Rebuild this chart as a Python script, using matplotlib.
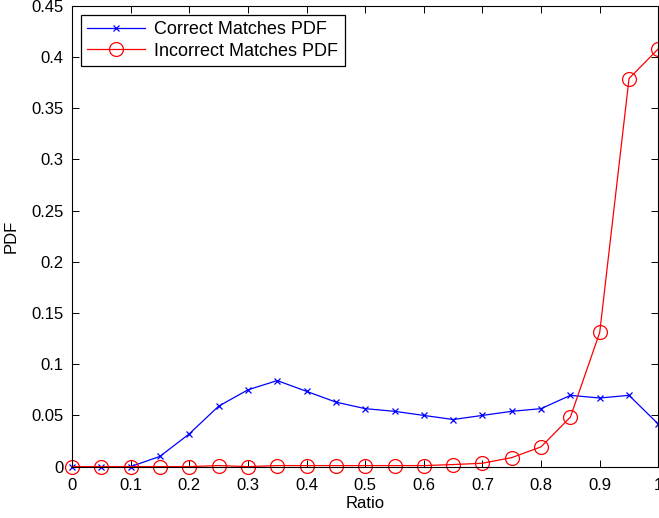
import matplotlib
matplotlib.use('Agg')
import matplotlib.pyplot as plt

plt.rcParams['font.family'] = ['Liberation Sans', 'DejaVu Sans']

ratio = [0.0, 0.05, 0.1, 0.15, 0.2, 0.25, 0.3, 0.35, 0.4, 0.45, 0.5,
         0.55, 0.6, 0.65, 0.7, 0.75, 0.8, 0.85, 0.9, 0.95, 1.0]
correct_pdf = [0.0, 0.0, 0.0, 0.010, 0.032, 0.059, 0.075, 0.084, 0.0735, 0.063, 0.0566,
               0.054, 0.050, 0.046, 0.050, 0.054, 0.0566, 0.0696, 0.067, 0.0696, 0.0415]
incorrect_pdf = [0.0, 0.0, 0.0, 0.0, 0.0, 0.001, 0.0, 0.001, 0.001, 0.001, 0.001,
                 0.001, 0.001, 0.002, 0.0033, 0.0088, 0.0193, 0.0484, 0.131, 0.379, 0.408]
xticks = [0, 0.1, 0.2, 0.3, 0.4, 0.5, 0.6, 0.7, 0.8, 0.9, 1]
yticks = [0, 0.05, 0.1, 0.15, 0.2, 0.25, 0.3, 0.35, 0.4, 0.45]

fig = plt.figure(figsize=(6.59, 5.18), dpi=100)
ax = fig.add_axes([0.1093, 0.0992, 0.8897, 0.8896])

ax.plot(ratio, correct_pdf, color='blue', marker='x', markersize=5,
        markeredgewidth=0.9, linewidth=0.9, label='Correct Matches PDF', clip_on=False)
ax.plot(ratio, incorrect_pdf, color='red', marker='o', markersize=10,
        markerfacecolor='none', markeredgewidth=0.9, linewidth=0.9,
        label='Incorrect Matches PDF', clip_on=False)

ax.set_xlim(0, 1)
ax.set_ylim(0, 0.45)
ax.set_xticks(xticks)
ax.set_xticklabels(['0', '0.1', '0.2', '0.3', '0.4', '0.5', '0.6', '0.7', '0.8', '0.9', '1'])
ax.set_yticks(yticks)
ax.set_yticklabels(['0', '0.05', '0.1', '0.15', '0.2', '0.25', '0.3', '0.35', '0.4', '0.45'])
ax.tick_params(direction='in', top=True, right=True, length=5, width=0.7,
               labelsize=12)
ax.tick_params(axis='x', pad=8)
ax.tick_params(axis='y', pad=6)
for s in ax.spines.values():
    s.set_linewidth(0.8)

ax.set_xlabel('Ratio', fontsize=12, labelpad=2)
ax.set_ylabel('PDF', fontsize=12, labelpad=9)

leg = ax.legend(loc='upper left', fontsize=13, handlelength=3.2, fancybox=False,
                framealpha=1, edgecolor='black', borderaxespad=0.5,
                borderpad=0.35, labelspacing=0.25, handletextpad=0.5)
leg.get_frame().set_linewidth(0.9)

plt.savefig('out.png', dpi=100)
